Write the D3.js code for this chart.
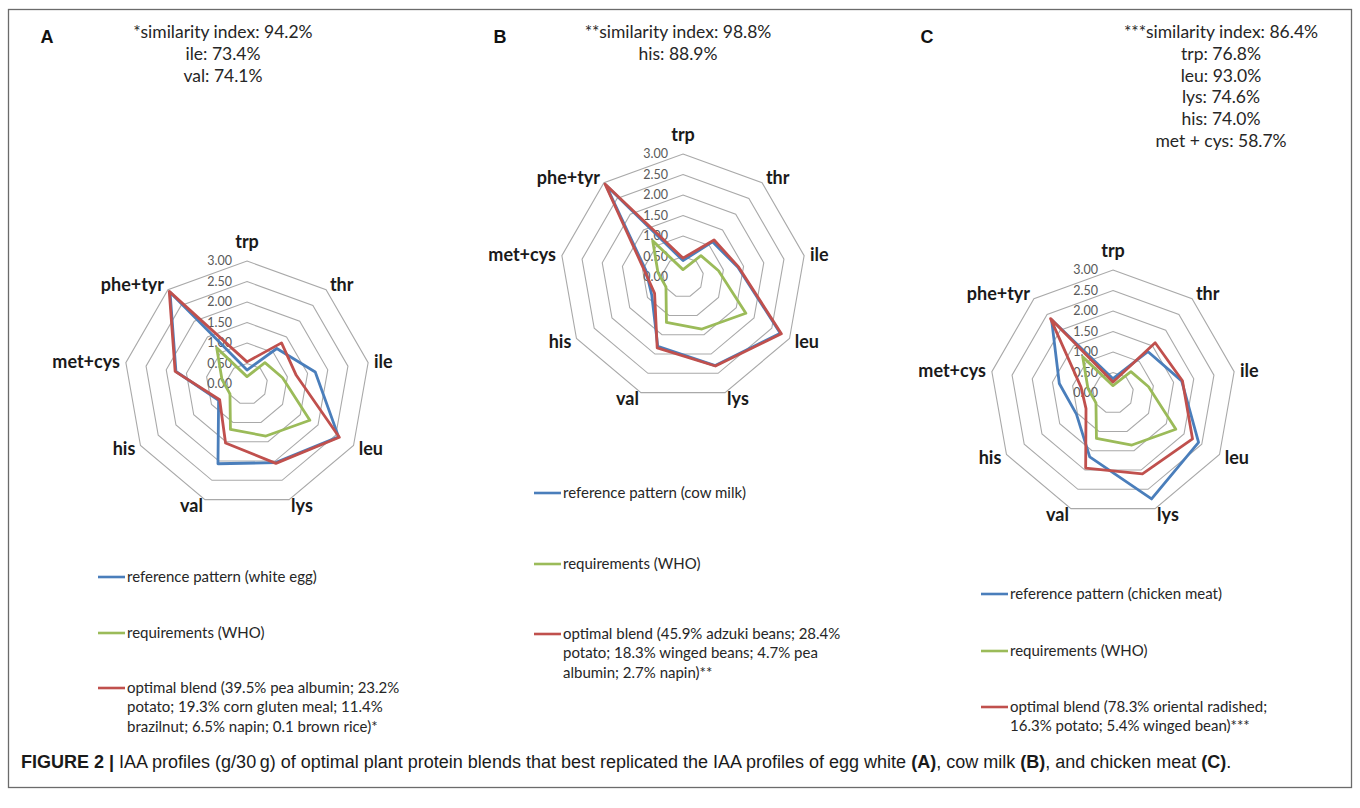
<!DOCTYPE html>
<html>
<head>
<meta charset="utf-8">
<script src="https://cdn.jsdelivr.net/npm/d3@7"></script>
<style>
  body { margin: 0; background: #ffffff; }
  svg { display: block; }
</style>
</head>
<body>
<svg id="fig" width="1360" height="808"></svg>
<script>
// Indispensable amino acids, clockwise from the top of each radar
const aminoAcids = ["trp", "thr", "ile", "leu", "lys", "val", "his", "met+cys", "phe+tyr"];
const gridTicks = [0, 0.5, 1, 1.5, 2, 2.5, 3];

// g per 30 g protein, same order as aminoAcids
const whoRequirements = [0.18, 0.68, 0.88, 1.77, 1.35, 1.18, 0.48, 0.62, 1.15];

const eggWhiteRef = [0.34, 1.13, 1.69, 2.58, 2.04, 2.07, 0.80, 1.76, 2.92];
const blendA      = [0.54, 1.31, 1.22, 2.60, 2.06, 1.53, 0.77, 1.78, 2.95];

const cowMilkRef  = [0.40, 1.12, 1.36, 2.74, 2.30, 1.80, 0.88, 0.92, 2.92];
const blendB      = [0.46, 1.18, 1.38, 2.77, 2.31, 1.84, 0.80, 0.96, 2.96];

const chickenRef  = [0.35, 1.32, 1.70, 2.41, 2.75, 1.66, 1.03, 1.33, 2.33];
const blendC      = [0.27, 1.60, 1.72, 2.24, 2.10, 1.95, 0.76, 0.79, 2.37];

// Panel annotations
const statsA = ["*similarity index: 94.2%", "ile: 73.4%", "val: 74.1%"];
const statsB = ["**similarity index: 98.8%", "his: 88.9%"];
const statsC = ["***similarity index: 86.4%", "trp: 76.8%", "leu: 93.0%", "lys: 74.6%", "his: 74.0%", "met + cys: 58.7%"];

const refLabelA = ["reference pattern (white egg)"];
const refLabelB = ["reference pattern (cow milk)"];
const refLabelC = ["reference pattern (chicken meat)"];
const whoLabel = ["requirements (WHO)"];
const blendLabelA = ["optimal blend (39.5% pea albumin; 23.2%", "potato; 19.3% corn gluten meal; 11.4%", "brazilnut; 6.5% napin; 0.1 brown rice)*"];
const blendLabelB = ["optimal blend (45.9% adzuki beans; 28.4%", "potato; 18.3% winged beans; 4.7% pea", "albumin; 2.7% napin)**"];
const blendLabelC = ["optimal blend (78.3% oriental radished;", "16.3% potato; 5.4% winged bean)***"];

const COLORS = { ref: "#4a7ebb", who: "#9bbb59", blend: "#c0504d" };
const R = 123;
const svg = d3.select("#fig");

// outer frame
svg.append("rect")
  .attr("x", 8.5).attr("y", 9.5).attr("width", 1343).attr("height", 778)
  .attr("fill", "none").attr("stroke", "#6b6b6b").attr("stroke-width", 1.3);

const panels = [
  { letter: "A", lx: 47, cx: 247, cy: 384, statX: 223, stats: statsA, ref: eggWhiteRef, blend: blendA,
    legX: 98, legY: [577, 633, 688], refLabel: refLabelA, blendLabel: blendLabelA },
  { letter: "B", lx: 500, cx: 683, cy: 277, statX: 678, stats: statsB, ref: cowMilkRef, blend: blendB,
    legX: 534, legY: [493, 564, 634], refLabel: refLabelB, blendLabel: blendLabelB },
  { letter: "C", lx: 927, cx: 1113, cy: 393, statX: 1221, stats: statsC, ref: chickenRef, blend: blendC,
    legX: 981, legY: [594, 651, 707], refLabel: refLabelC, blendLabel: blendLabelC }
];

const rScale = d3.scaleLinear().domain([0, 3]).range([0, R]);
const angle = d3.scalePoint().domain(aminoAcids).range([0, 2 * Math.PI * (aminoAcids.length - 1) / aminoAcids.length]);

const radarLine = d3.lineRadial()
  .angle((d, i) => angle(aminoAcids[i]))
  .radius(d => rScale(d))
  .curve(d3.curveLinearClosed);

panels.forEach(p => {
  // panel letter
  svg.append("text")
    .attr("x", p.lx).attr("y", 43)
    .attr("text-anchor", "middle")
    .attr("font-family", "Liberation Sans, Arial, sans-serif")
    .attr("font-weight", "bold").attr("font-size", 18)
    .attr("fill", "#111").text(p.letter);

  // similarity statistics
  svg.append("g").selectAll("text").data(p.stats).join("text")
    .attr("x", p.statX).attr("y", (d, i) => 38 + i * 21.8)
    .attr("text-anchor", "middle")
    .attr("font-family", "Lato, sans-serif").attr("font-size", 17.5)
    .attr("fill", "#262626").text(d => d);

  const g = svg.append("g").attr("transform", `translate(${p.cx},${p.cy})`);

  // concentric grid polygons
  g.append("g").selectAll("path").data(gridTicks.filter(t => t > 0)).join("path")
    .attr("d", t => radarLine(aminoAcids.map(() => t)))
    .attr("fill", "none").attr("stroke", "#a9a9a9").attr("stroke-width", 1.1);

  // value labels on the vertical axis
  g.append("g").selectAll("text").data(gridTicks).join("text")
    .attr("x", -15).attr("y", t => -rScale(t))
    .attr("dy", "0.35em")
    .attr("text-anchor", "end")
    .attr("font-family", "Lato, sans-serif").attr("font-size", 12.5)
    .attr("fill", "#595959").text(t => d3.format(".2f")(t));

  // category labels
  g.append("g").selectAll("text").data(aminoAcids).join("text")
    .each(function (name) {
      const a = angle(name);
      const dx = Math.sin(a), dy = -Math.cos(a);
      const rr = R + 6;
      let x = rr * dx, y = rr * dy, anchor = "middle";
      if (dx > 0.1) anchor = "start"; else if (dx < -0.1) anchor = "end";
      if (Math.abs(dx) <= 0.1) y = -R - 19;
      d3.select(this)
        .attr("x", x).attr("y", y).attr("dy", "0.35em")
        .attr("text-anchor", anchor);
    })
    .attr("font-family", "Lato, sans-serif").attr("font-weight", "bold").attr("font-size", 18)
    .attr("fill", "#1a1a1a").text(d => d);

  // data series
  const series = [
    { values: p.ref, color: COLORS.ref },
    { values: whoRequirements, color: COLORS.who },
    { values: p.blend, color: COLORS.blend }
  ];
  g.append("g").selectAll("path").data(series).join("path")
    .attr("d", s => radarLine(s.values))
    .attr("fill", "none").attr("stroke", s => s.color)
    .attr("stroke-width", 2.8).attr("stroke-linejoin", "round");

  // legend
  const legendItems = [
    { lines: p.refLabel, color: COLORS.ref, y: p.legY[0] },
    { lines: whoLabel, color: COLORS.who, y: p.legY[1] },
    { lines: p.blendLabel, color: COLORS.blend, y: p.legY[2] }
  ];
  const lg = svg.append("g");
  legendItems.forEach(item => {
    lg.append("line")
      .attr("x1", p.legX).attr("x2", p.legX + 27)
      .attr("y1", item.y).attr("y2", item.y)
      .attr("stroke", item.color).attr("stroke-width", 2.6);
    lg.append("g").selectAll("text").data(item.lines).join("text")
      .attr("x", p.legX + 29).attr("y", (d, i) => item.y + i * 19.2)
      .attr("dy", "0.35em")
      .attr("font-family", "Lato, sans-serif").attr("font-size", 15)
      .attr("fill", "#262626").text(d => d);
  });
});

// figure caption
const captionParts = [
  { t: "FIGURE 2 |", b: true },
  { t: " IAA profiles (g/30\u2009g) of optimal plant protein blends that best replicated the IAA profiles of egg white ", b: false },
  { t: "(A)", b: true },
  { t: ", cow milk ", b: false },
  { t: "(B)", b: true },
  { t: ", and chicken meat ", b: false },
  { t: "(C)", b: true },
  { t: ".", b: false }
];
const caption = svg.append("text")
  .attr("x", 21).attr("y", 768)
  .attr("font-family", "Liberation Sans Narrow, Liberation Sans, Arial, sans-serif")
  .attr("font-size", 16).attr("fill", "#1a1a1a");
caption.selectAll("tspan").data(captionParts).join("tspan")
  .attr("font-weight", d => d.b ? "bold" : "normal")
  .text(d => d.t);
const w = caption.node().getComputedTextLength();
caption.attr("font-size", Math.min(18, 16 * 1219 / w));
</script>
</body>
</html>
